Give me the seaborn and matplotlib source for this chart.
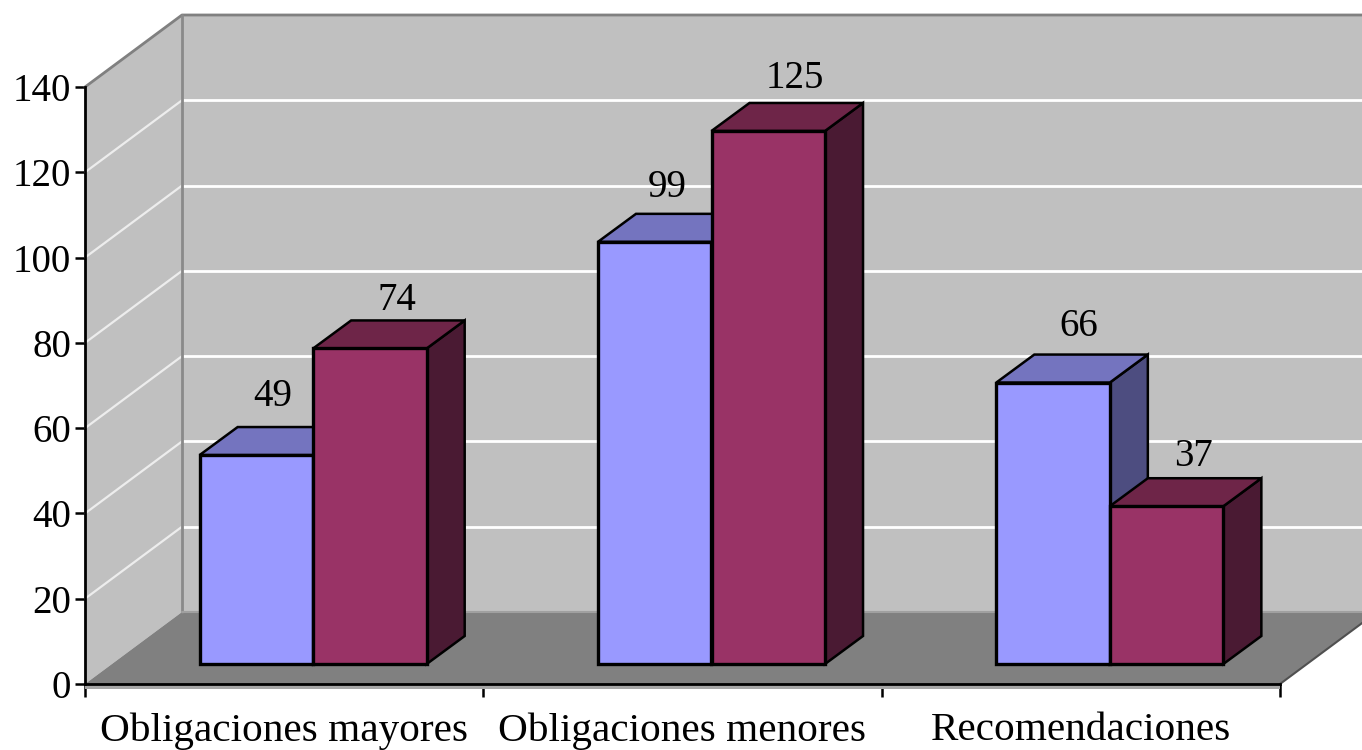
import pandas as pd
import matplotlib.pyplot as plt
from matplotlib.patches import Polygon
import seaborn as sns

categorias = ['Obligaciones mayores', 'Obligaciones menores', 'Recomendaciones']
serie_azul = [49, 99, 66]
serie_roja = [74, 125, 37]
y_ticks = [0, 20, 40, 60, 80, 100, 120, 140]
grid_values = [20, 40, 60, 80, 100, 120]

colores = ['#9999FF', '#993366']
color_top = {'#9999FF': '#7474BF', '#993366': '#6E2548'}
color_side = {'#9999FF': '#4D4D80', '#993366': '#4A1A33'}

W, H = 1362, 750
sns.set_theme(style='white')
plt.rcParams['font.family'] = ['Liberation Serif', 'DejaVu Serif']

df = pd.DataFrame({
    'categoria': categorias * 2,
    'valor': serie_azul + serie_roja,
    'serie': ['a'] * 3 + ['b'] * 3,
})

fig = plt.figure(figsize=(W / 100, H / 100), dpi=100, facecolor='white')

#main axes hold the walls and the ticks
ax = fig.add_axes([85 / W, 1 - 684 / H, 1195 / W, 597 / H])
ax.set_xlim(-0.5, 2.5)
ax.set_ylim(0, 140)
ax.patch.set_visible(False)

px_x = 3 / 1195     #x units per pixel
px_y = 140 / 597    #y units per pixel
wall_dx = 97 * px_x
wall_dy = 72 * px_y

x0, x1 = -0.5, 2.5
ax.add_patch(Polygon([(x0 + wall_dx, wall_dy), (x1 + wall_dx, wall_dy), (x1 + wall_dx, 140 + wall_dy), (x0 + wall_dx, 140 + wall_dy)],
                     fc='#C0C0C0', ec='none', clip_on=False, zorder=1))
ax.add_patch(Polygon([(x0, 0), (x0 + wall_dx, wall_dy), (x0 + wall_dx, 140 + wall_dy), (x0, 140)],
                     fc='#C0C0C0', ec='none', clip_on=False, zorder=1))
ax.add_patch(Polygon([(x0, 0), (x1, 0), (x1 + wall_dx, wall_dy), (x0 + wall_dx, wall_dy)],
                     fc='#808080', ec='none', clip_on=False, zorder=1.1))
ax.add_patch(Polygon([(x0, 0), (x1, 0), (x1, -1.2), (x0, -1.2)], fc='#A6A6A6', ec='none', clip_on=False, zorder=1))

for v in grid_values:
    ax.plot([x0 + wall_dx, x1 + wall_dx], [v + wall_dy] * 2, color='white', lw=2, clip_on=False, zorder=1.2)
    ax.plot([x0, x0 + wall_dx], [v, v + wall_dy], color='#EDEDED', lw=1.6, clip_on=False, zorder=1.2)

#wall outlines
ax.plot([x0, x0 + wall_dx, x1 + wall_dx], [140, 140 + wall_dy, 140 + wall_dy], color='#808080', lw=2, clip_on=False, zorder=1.3)
ax.plot([x0 + wall_dx] * 2, [wall_dy, 140 + wall_dy], color='#8A8A8A', lw=2, clip_on=False, zorder=1.3)
ax.plot([x0 + wall_dx, x1 + wall_dx], [wall_dy] * 2, color='#A0A0A0', lw=1.5, clip_on=False, zorder=1.3)
ax.plot([x1, x1 + wall_dx], [0, wall_dy], color='#505050', lw=1.5, clip_on=False, zorder=1.3)

ax.set_yticks(y_ticks)
ax.set_xticks([0, 1, 2])
ax.set_xticklabels(categorias, fontsize=29.7, color='black')
ax.set_xticks([-0.5, 0.5, 1.5, 2.5], minor=True)
ax.tick_params(axis='x', which='major', length=0, pad=20.5)
ax.tick_params(axis='x', which='minor', length=9, width=1.8, color='black', bottom=True)
ax.tick_params(axis='y', length=7, width=1.8, color='black', left=True, pad=3, labelsize=28, labelcolor='black')
ax.set_xlabel('')
ax.set_ylabel('')
sns.despine(ax=ax, top=True, right=True)
for s in ['left', 'bottom']:
    ax.spines[s].set_color('black')
    ax.spines[s].set_linewidth(2)
    ax.spines[s].set_zorder(2.5)

#bars sit on the middle of the floor so they get their own shifted axes
ax_bar = fig.add_axes([(85 + 29) / W, 1 - 664 / H, 1195 / W, 597 / H], zorder=3)
sns.barplot(data=df, x='categoria', y='valor', hue='serie', palette=colores, width=0.57, gap=0,
            edgecolor='black', linewidth=2.4, legend=False, saturation=1, ax=ax_bar)
ax_bar.set_xlim(-0.5, 2.5)
ax_bar.set_ylim(0, 140)
ax_bar.axis('off')

bar_dx = 38 * px_x
bar_dy = 28 * px_y
#label offsets from the bar's top centre, in pixels
label_dx = [16, 13, 26, 27, 27, 27]
label_dy = [59, 54, 56, 48, 52, 50]

bars = [p for p in ax_bar.patches if p.get_height() > 0]
for i, bar in enumerate(bars):
    left = bar.get_x()
    right = left + bar.get_width()
    top = bar.get_height()
    fc = colores[0] if i < 3 else colores[1]
    bar.set_zorder(5)
    bar.set_clip_on(False)
    ax_bar.add_patch(Polygon([(right, 0), (right + bar_dx, bar_dy), (right + bar_dx, top + bar_dy), (right, top)],
                             fc=color_side[fc], ec='black', lw=1.8, clip_on=False, zorder=3 + i * 0.1))
    ax_bar.add_patch(Polygon([(left, top), (right, top), (right + bar_dx, top + bar_dy), (left + bar_dx, top + bar_dy)],
                             fc=color_top[fc], ec='black', lw=1.8, clip_on=False, zorder=3 + i * 0.1))
    ax_bar.annotate(f'{top:.0f}', xy=(left + bar.get_width() / 2, top),
                    xytext=(label_dx[i] * 0.72, label_dy[i] * 0.72), textcoords='offset points',
                    ha='center', va='center', fontsize=28, color='black', zorder=6)

plt.savefig('out.png', dpi=100)
plt.close()
print('saved')
